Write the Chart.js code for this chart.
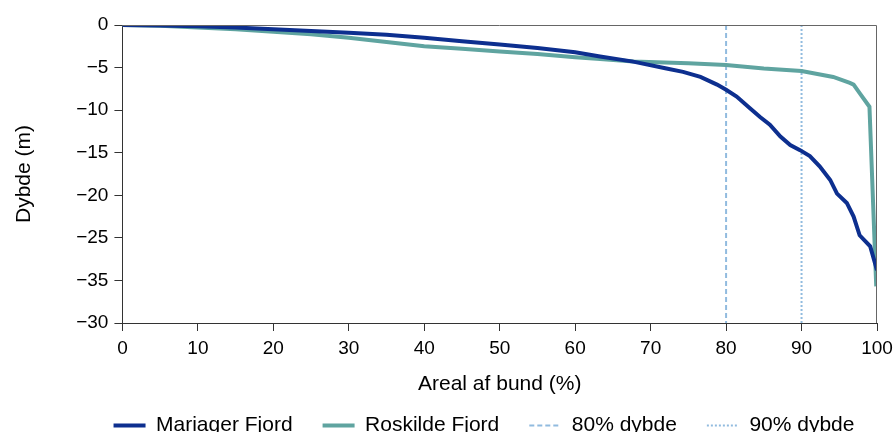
<!DOCTYPE html>
<html>
<head>
<meta charset="utf-8">
<script src="https://cdn.jsdelivr.net/npm/chart.js@4"></script>
<style>
  body { margin: 0; background: #fff; }
  #wrap { width: 894px; height: 432px; }
</style>
</head>
<body>
<div id="wrap"><canvas id="chart"></canvas></div>
<script>
var mariagerX = [0, 5, 10, 15, 20, 25, 30, 35, 40, 45, 50, 55, 60, 63.3, 67.7, 72.1, 74.3, 76.6, 78.8, 80, 81.4, 83.2, 84.5, 85.8, 87.2, 88.5, 89.8, 91.1, 92.4, 93.8, 94.7, 96.0, 96.9, 97.7, 99.1, 100];
var mariagerY = [0, -0.05, -0.15, -0.3, -0.5, -0.7, -0.9, -1.15, -1.5, -1.9, -2.3, -2.7, -3.2, -3.7, -4.3, -5.1, -5.5, -6.1, -7.0, -7.6, -8.4, -9.8, -10.8, -11.7, -13.1, -14.1, -14.7, -15.4, -16.6, -18.2, -19.8, -20.9, -22.5, -24.7, -26.0, -28.8];
var roskildeX = [0, 5, 10, 15, 20, 25, 30, 35, 40, 45, 50, 55, 60, 63.3, 67.7, 75, 80, 85, 90, 94.2, 96.4, 96.9, 97.7, 99.0, 99.9];
var roskildeY = [0, -0.1, -0.3, -0.5, -0.8, -1.1, -1.5, -2.0, -2.5, -2.8, -3.1, -3.4, -3.8, -4.0, -4.3, -4.5, -4.7, -5.1, -5.4, -6.1, -6.8, -7.0, -8.0, -9.6, -30.7];
var markerX = [80, 90];
var markerY = [0, -35];
var xTicks = [0, 10, 20, 30, 40, 50, 60, 70, 80, 90, 100];
var yTickValues = [0, -5, -10, -15, -20, -25, -30, -35];
var yTickLabels = ['0', '−5', '−10', '−15', '−20', '−25', '−35', '−30'];

function pts(xs, ys) {
  return xs.map(function (x, i) { return { x: x, y: ys[i] }; });
}

// top/right frame lines + nudge the legend a bit to the right like the original
var frame = {
  id: 'frame',
  beforeDraw: function (chart) {
    if (chart.legend && !chart.legend._nudged) {
      chart.legend.left += 31;
      chart.legend.right += 31;
      chart.legend._nudged = true;
    }
  },
  afterDatasetsDraw: function (chart) {
    var a = chart.chartArea, c = chart.ctx;
    c.save();
    c.strokeStyle = '#666';
    c.lineWidth = 1;
    c.beginPath();
    c.moveTo(a.left, a.top + 0.5);
    c.lineTo(a.right - 0.5, a.top + 0.5);
    c.lineTo(a.right - 0.5, a.bottom);
    c.stroke();
    c.restore();
  }
};

var font = 'Liberation Sans, Arial';

var ctx = document.getElementById('chart');
var myChart = new Chart(ctx, {
  type: 'line',
  data: {
    datasets: [{
      label: 'Mariager Fjord',
      data: pts(mariagerX, mariagerY),
      borderColor: '#0d2f8f',
      borderWidth: 4
    }, {
      label: 'Roskilde Fjord',
      data: pts(roskildeX, roskildeY),
      borderColor: '#5fa4a0',
      borderWidth: 4
    }, {
      label: '80% dybde',
      data: pts([markerX[0], markerX[0]], markerY),
      borderColor: '#91bbdf',
      borderWidth: 2,
      borderDash: [5, 3]
    }, {
      label: '90% dybde',
      data: pts([markerX[1], markerX[1]], markerY),
      borderColor: '#91bbdf',
      borderWidth: 2,
      borderDash: [2, 2]
    }]
  },
  options: {
    responsive: true,
    maintainAspectRatio: false,
    animation: false,
    layout: { padding: { top: 25, right: 0, left: 12, bottom: -14 } },
    elements: { point: { radius: 0 }, line: { tension: 0 } },
    scales: {
      x: {
        type: 'linear',
        min: 0,
        max: 100,
        afterBuildTicks: function (s) { s.ticks = xTicks.map(function (v) { return { value: v }; }); },
        afterFit: function (s) { s.paddingRight = 17; },
        grid: { drawOnChartArea: false, tickLength: 8, color: '#333' },
        border: { color: '#333' },
        ticks: { color: '#000', font: { family: font, size: 19 }, padding: 6, maxRotation: 0 },
        title: { display: true, text: 'Areal af bund (%)', color: '#000', font: { family: font, size: 21 }, padding: { top: 6, bottom: -12 } }
      },
      y: {
        min: -35,
        max: 0,
        afterBuildTicks: function (s) { s.ticks = yTickValues.map(function (v) { return { value: v }; }); },
        grid: { drawOnChartArea: false, tickLength: 8, color: '#333' },
        border: { color: '#333' },
        ticks: {
          color: '#000', font: { family: font, size: 19 }, padding: 6,
          callback: function (v) { return yTickLabels[yTickValues.indexOf(v)]; }
        },
        title: { display: true, text: 'Dybde (m)', color: '#000', font: { family: font, size: 21 }, padding: { top: 0, bottom: 33 } }
      }
    },
    plugins: {
      legend: {
        position: 'bottom',
        labels: {
          usePointStyle: true,
          pointStyleWidth: 32,
          boxHeight: 12,
          color: '#000',
          padding: 30,
          font: { family: font, size: 21 },
          generateLabels: function (chart) {
            return chart.data.datasets.map(function (d, i) {
              return {
                text: d.label,
                datasetIndex: i,
                pointStyle: 'line',
                strokeStyle: d.borderColor,
                fillStyle: d.borderColor,
                lineWidth: d.borderWidth,
                lineDash: d.borderDash || [],
                fontColor: '#000'
              };
            });
          }
        }
      },
      tooltip: { enabled: false }
    }
  },
  plugins: [frame]
});
</script>
</body>
</html>
